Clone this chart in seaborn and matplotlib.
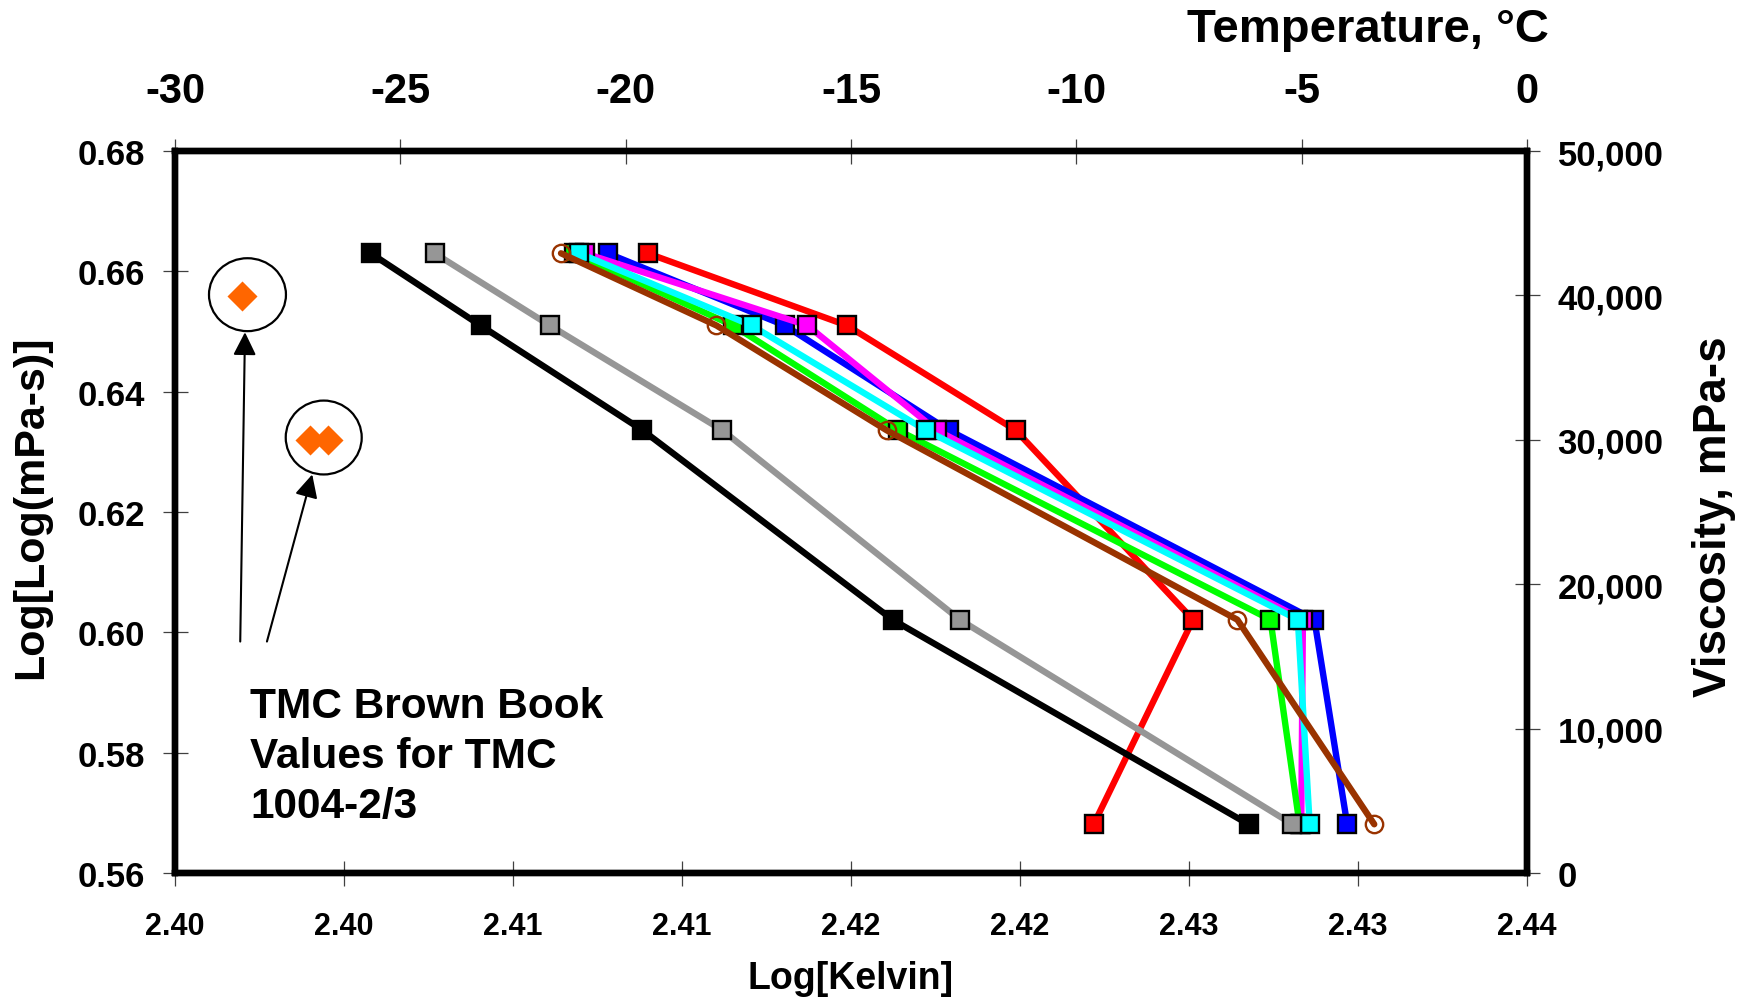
import numpy as np
import pandas as pd
import matplotlib
matplotlib.use("Agg")
import matplotlib.pyplot as plt
from matplotlib.patches import Ellipse
from matplotlib.ticker import FuncFormatter
import seaborn as sns

# Log[Log(mPa-s)] levels: 40,000 / 30,000 / 20,000 / 10,000 / 5,000 mPa-s
loglog_visc = [0.6630, 0.6510, 0.6336, 0.6021, 0.5681]

# Log[Kelvin] at each viscosity level, one list per oil
red_x = [2.41398, 2.41988, 2.42487, 2.43012, 2.42718]
blue_x = [2.41280, 2.41804, 2.42289, 2.43371, 2.43468]
magenta_x = [2.41213, 2.41871, 2.42253, 2.43337, 2.43332]
green_x = [2.41181, 2.41651, 2.42139, 2.43241, 2.43327]
cyan_x = [2.41196, 2.41706, 2.42221, 2.43322, 2.43357]
black_x = [2.40579, 2.40904, 2.41383, 2.42123, 2.43176]
gray_x = [2.40768, 2.41109, 2.41619, 2.42322, 2.43306]
brown_x = [2.41142, 2.41602, 2.42105, 2.43143, 2.43548]

# TMC Brown Book values for TMC 1004-2/3
book_x = [2.40199, 2.40399, 2.40453]
book_y = [0.65595, 0.63200, 0.63200]

x_ticks = [2.400, 2.405, 2.410, 2.415, 2.420, 2.425, 2.430, 2.435, 2.440]
x_ticklabels = ["2.40", "2.40", "2.41", "2.41", "2.42", "2.42", "2.43", "2.43", "2.44"]
y_ticks = [0.56, 0.58, 0.60, 0.62, 0.64, 0.66, 0.68]
temp_ticks = [-30, -25, -20, -15, -10, -5, 0]
visc_ticks = [0, 10000, 20000, 30000, 40000, 50000]

sns.set_style("white")
plt.rcParams["font.family"] = ["Liberation Sans", "DejaVu Sans"]
plt.rcParams["font.weight"] = "bold"
plt.rcParams["axes.unicode_minus"] = False
plt.rcParams["text.color"] = "black"
plt.rcParams["axes.labelcolor"] = "black"
plt.rcParams["xtick.labelcolor"] = "black"
plt.rcParams["ytick.labelcolor"] = "black"
plt.rcParams["lines.linewidth"] = 4.6

fig = plt.figure(figsize=(17.45, 10.03), dpi=100)
ax = fig.add_axes([0.10029, 0.12861, 0.77479, 0.71984])

series = [
    (red_x, "#FF0000", "s", True),
    (blue_x, "#0000FF", "s", True),
    (magenta_x, "#FF00FF", "s", True),
    (green_x, "#00FF00", "s", True),
    (cyan_x, "#00FFFF", "s", True),
    (black_x, "#000000", "s", True),
    (gray_x, "#969696", "s", True),
    (brown_x, "#993300", "o", False),
]

LINE_W = 4.6
for xs, col, mk, filled in series:
    df = pd.DataFrame({"logK": xs, "loglog": loglog_visc})
    face = col if filled else "none"
    edge = "black" if filled else col
    size = 13.5 if filled else 12.5
    sns.lineplot(data=df, x="logK", y="loglog", ax=ax, sort=False,
                 estimator=None, color=col, marker=mk, linewidth=LINE_W,
                 markersize=size, markerfacecolor=face,
                 markeredgecolor=edge, markeredgewidth=1.7)

for ln in ax.lines:
    ln.set_linewidth(LINE_W)
    ln.set_markeredgewidth(1.7)

sns.scatterplot(x=book_x, y=book_y, ax=ax, marker="D", s=15.3 ** 2,
                color="#FF6600", linewidth=0, zorder=5)

# circles around the Brown Book points
ax.add_patch(Ellipse((2.402144, 0.65612), width=0.002277, height=0.01212,
                     fill=False, ec="black", lw=1.6, zorder=6))
ax.add_patch(Ellipse((2.40440, 0.63238), width=0.002248, height=0.01228,
                     fill=False, ec="black", lw=1.6, zorder=6))

arrow = dict(arrowstyle="-|>,head_length=0.7,head_width=0.35", color="black",
             lw=1.5, shrinkA=0, shrinkB=0, mutation_scale=20)
ax.annotate("", xy=(2.40207, 0.64988), xytext=(2.40193, 0.59847), arrowprops=arrow)
ax.annotate("", xy=(2.40406, 0.62624), xytext=(2.40272, 0.59847), arrowprops=arrow)

ax.text(2.40223, 0.57948, "TMC Brown Book\nValues for TMC\n1004-2/3",
        fontsize=30.5, fontweight="bold", ha="left", va="center",
        linespacing=1.32, color="black")

ax.set_xlim(2.40, 2.44)
ax.set_ylim(0.56, 0.68)
ax.set_xticks(x_ticks)
ax.set_xticklabels(x_ticklabels)
ax.set_yticks(y_ticks)
ax.yaxis.set_major_formatter(FuncFormatter(lambda v, p: f"{v:.2f}"))

tick_kw = dict(direction="inout", length=18, width=0.9, color="#404040",
               labelcolor="black")
ax.tick_params(axis="x", labelsize=22, pad=18, **tick_kw)
ax.tick_params(axis="y", labelsize=25, pad=12.6, **tick_kw)

ax.set_xlabel("Log[Kelvin]", fontsize=27, fontweight="bold", color="black")
ax.set_ylabel("Log[Log(mPa-s)]", fontsize=31, fontweight="bold", color="black")
ax.xaxis.set_label_coords(0.5, -0.1454)
ax.yaxis.set_label_coords(-0.1065, 0.508)
ax.xaxis.label.set_va("center")
ax.yaxis.label.set_va("center")
ax.yaxis.label.set_ha("center")

# top axis: temperature in degrees C
ax_top = ax.twiny()
ax_top.set_xlim(-30, 0)
ax_top.set_xticks(temp_ticks)
ax_top.set_xticklabels([str(t) for t in temp_ticks])
ax_top.tick_params(axis="x", labelsize=30, pad=19.8, **tick_kw)
ax_top.set_xlabel("Temperature, °C", fontsize=34, fontweight="bold", color="black")
ax_top.xaxis.set_label_coords(0.8824, 1.169)
ax_top.xaxis.label.set_va("center")

# right axis: viscosity in mPa-s
ax_right = ax.twinx()
ax_right.set_ylim(0, 50000)
ax_right.set_yticks(visc_ticks)
ax_right.yaxis.set_major_formatter(FuncFormatter(lambda v, p: f"{v:,.0f}"))
ax_right.tick_params(axis="y", labelsize=25, pad=13, **tick_kw)
ax_right.set_ylabel("Viscosity, mPa-s", fontsize=33, fontweight="bold", color="black")
ax_right.yaxis.set_label_coords(1.1383, 0.4945)
ax_right.yaxis.label.set_va("center")
ax_right.yaxis.label.set_ha("center")

for a in (ax, ax_top, ax_right):
    for s in a.spines.values():
        s.set_linewidth(4.5)
        s.set_color("black")
        s.set_visible(True)
    a.grid(False)

for t in ax.get_xticklabels() + ax.get_yticklabels() + ax_top.get_xticklabels() + ax_right.get_yticklabels():
    t.set_fontweight("bold")
    t.set_color("black")

fig.savefig("out.png", dpi=100, facecolor="white")
